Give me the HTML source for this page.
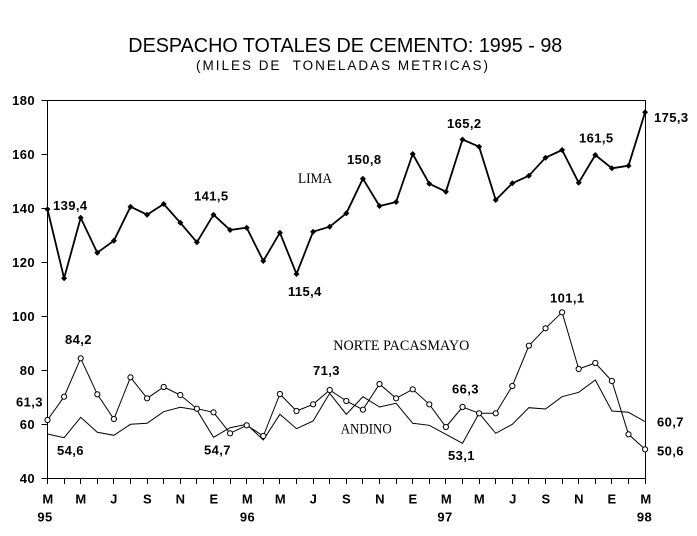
<!DOCTYPE html>
<html>
<head>
<meta charset="utf-8">
<style>
html,body{margin:0;padding:0;background:#fff;}
svg{display:block;}
.ax{font-family:"Liberation Sans",Arial,sans-serif;font-weight:bold;font-size:13px;letter-spacing:0.4px;fill:#000;}
.sr{font-family:"Liberation Serif","Times New Roman",serif;font-size:15px;fill:#000;}
</style>
</head>
<body>
<svg width="697" height="536" viewBox="0 0 697 536" xmlns="http://www.w3.org/2000/svg">
<rect width="697" height="536" fill="#fff"/>
<text x="128.3" y="52" font-family="Liberation Sans, Arial, sans-serif" font-size="20" textLength="434" lengthAdjust="spacingAndGlyphs">DESPACHO TOTALES DE CEMENTO: 1995 - 98</text>
<text x="196" y="70" font-family="Liberation Sans, Arial, sans-serif" font-size="13.5" textLength="292" xml:space="preserve">(MILES DE  TONELADAS METRICAS)</text>

<g stroke="#000" stroke-width="1" fill="none" shape-rendering="crispEdges">
<path d="M47.5 100.5 H645.5 V478.5 H47.5 Z"/>
<path d="M41.5 100.5H47.5M41.5 154.5H47.5M41.5 208.5H47.5M41.5 262.5H47.5M41.5 316.5H47.5M41.5 370.5H47.5M41.5 424.5H47.5M41.5 478.5H47.5"/>
</g>
<g stroke="#000" stroke-width="1" shape-rendering="crispEdges">
<line x1="47.5" y1="478.5" x2="47.5" y2="484"/><line x1="64.5" y1="478.5" x2="64.5" y2="484"/><line x1="80.5" y1="478.5" x2="80.5" y2="484"/><line x1="97.5" y1="478.5" x2="97.5" y2="484"/><line x1="113.5" y1="478.5" x2="113.5" y2="484"/><line x1="130.5" y1="478.5" x2="130.5" y2="484"/><line x1="147.5" y1="478.5" x2="147.5" y2="484"/><line x1="163.5" y1="478.5" x2="163.5" y2="484"/><line x1="180.5" y1="478.5" x2="180.5" y2="484"/><line x1="196.5" y1="478.5" x2="196.5" y2="484"/><line x1="213.5" y1="478.5" x2="213.5" y2="484"/><line x1="230.5" y1="478.5" x2="230.5" y2="484"/><line x1="246.5" y1="478.5" x2="246.5" y2="484"/><line x1="263.5" y1="478.5" x2="263.5" y2="484"/><line x1="279.5" y1="478.5" x2="279.5" y2="484"/><line x1="296.5" y1="478.5" x2="296.5" y2="484"/><line x1="313.5" y1="478.5" x2="313.5" y2="484"/><line x1="329.5" y1="478.5" x2="329.5" y2="484"/><line x1="346.5" y1="478.5" x2="346.5" y2="484"/><line x1="362.5" y1="478.5" x2="362.5" y2="484"/><line x1="379.5" y1="478.5" x2="379.5" y2="484"/><line x1="396.5" y1="478.5" x2="396.5" y2="484"/><line x1="412.5" y1="478.5" x2="412.5" y2="484"/><line x1="429.5" y1="478.5" x2="429.5" y2="484"/><line x1="445.5" y1="478.5" x2="445.5" y2="484"/><line x1="462.5" y1="478.5" x2="462.5" y2="484"/><line x1="479.5" y1="478.5" x2="479.5" y2="484"/><line x1="495.5" y1="478.5" x2="495.5" y2="484"/><line x1="512.5" y1="478.5" x2="512.5" y2="484"/><line x1="528.5" y1="478.5" x2="528.5" y2="484"/><line x1="545.5" y1="478.5" x2="545.5" y2="484"/><line x1="562.5" y1="478.5" x2="562.5" y2="484"/><line x1="578.5" y1="478.5" x2="578.5" y2="484"/><line x1="595.5" y1="478.5" x2="595.5" y2="484"/><line x1="611.5" y1="478.5" x2="611.5" y2="484"/><line x1="628.5" y1="478.5" x2="628.5" y2="484"/><line x1="645.5" y1="478.5" x2="645.5" y2="484"/>
</g>

<!-- Y labels -->
<g class="ax" text-anchor="end">
<text x="35" y="105">180</text>
<text x="35" y="159">160</text>
<text x="35" y="213">140</text>
<text x="35" y="267">120</text>
<text x="35" y="321">100</text>
<text x="35" y="375">80</text>
<text x="35" y="429">60</text>
<text x="35" y="483">40</text>
</g>

<!-- X labels -->
<g class="ax" text-anchor="middle">
<text x="48" y="503.5">M</text>
<text x="81" y="503.5">M</text>
<text x="114" y="503.5">J</text>
<text x="147.5" y="503.5">S</text>
<text x="180.5" y="503.5">N</text>
<text x="214" y="503.5">E</text>
<text x="247.5" y="503.5">M</text>
<text x="280.5" y="503.5">M</text>
<text x="313.5" y="503.5">J</text>
<text x="346.5" y="503.5">S</text>
<text x="380" y="503.5">N</text>
<text x="413" y="503.5">E</text>
<text x="446.5" y="503.5">M</text>
<text x="479.5" y="503.5">M</text>
<text x="513" y="503.5">J</text>
<text x="546" y="503.5">S</text>
<text x="579" y="503.5">N</text>
<text x="612" y="503.5">E</text>
<text x="646" y="503.5">M</text>
<text x="45" y="521.5">95</text>
<text x="247.5" y="521.5">96</text>
<text x="445" y="521.5">97</text>
<text x="644.5" y="521.5">98</text>
</g>

<!-- ANDINO -->
<polyline fill="none" stroke="#000" stroke-width="1" points="47.5,434 64.1,437.7 80.7,417.3 97.3,432.3 113.9,435.3 130.5,424.3 147.1,423.3 163.7,411.7 180.3,407.3 196.9,410 213.5,437.3 230.1,427.7 246.7,424.3 263.3,440 279.9,414.3 296.5,428.7 313.1,421 329.7,393.3 346.3,414.3 362.9,396.7 379.5,407 396.1,403.3 412.7,423.3 429.3,425.3 445.9,434.3 462.5,443.3 479.1,413.3 495.7,433.3 512.3,424.3 528.9,407.7 545.5,409 562.1,396.7 578.7,392.3 595.3,380 611.9,411 628.5,412.3 645.1,421.7"/>

<!-- NORTE PACASMAYO -->
<polyline fill="none" stroke="#000" stroke-width="1" points="47.5,420 64.1,396.7 80.7,358.3 97.3,394.3 113.9,419 130.5,377.3 147.1,398.3 163.7,387 180.3,395 196.9,408.7 213.5,412.3 230.1,433.3 246.7,425.3 263.3,436 279.9,394 296.5,411 313.1,404.3 329.7,390 346.3,401 362.9,409.7 379.5,384 396.1,398.3 412.7,389.3 429.3,404.3 445.9,427 462.5,407 479.1,413.3 495.7,413.3 512.3,386 528.9,345.7 545.5,328.3 562.1,312.3 578.7,369 595.3,363 611.9,381 628.5,434.3 645.1,449.3"/>
<g fill="#fff" stroke="#000" stroke-width="1">
<circle cx="47.5" cy="420" r="2.6"/><circle cx="64.1" cy="396.7" r="2.6"/><circle cx="80.7" cy="358.3" r="2.6"/><circle cx="97.3" cy="394.3" r="2.6"/><circle cx="113.9" cy="419" r="2.6"/><circle cx="130.5" cy="377.3" r="2.6"/><circle cx="147.1" cy="398.3" r="2.6"/><circle cx="163.7" cy="387" r="2.6"/><circle cx="180.3" cy="395" r="2.6"/><circle cx="196.9" cy="408.7" r="2.6"/><circle cx="213.5" cy="412.3" r="2.6"/><circle cx="230.1" cy="433.3" r="2.6"/><circle cx="246.7" cy="425.3" r="2.6"/><circle cx="263.3" cy="436" r="2.6"/><circle cx="279.9" cy="394" r="2.6"/><circle cx="296.5" cy="411" r="2.6"/><circle cx="313.1" cy="404.3" r="2.6"/><circle cx="329.7" cy="390" r="2.6"/><circle cx="346.3" cy="401" r="2.6"/><circle cx="362.9" cy="409.7" r="2.6"/><circle cx="379.5" cy="384" r="2.6"/><circle cx="396.1" cy="398.3" r="2.6"/><circle cx="412.7" cy="389.3" r="2.6"/><circle cx="429.3" cy="404.3" r="2.6"/><circle cx="445.9" cy="427" r="2.6"/><circle cx="462.5" cy="407" r="2.6"/><circle cx="479.1" cy="413.3" r="2.6"/><circle cx="495.7" cy="413.3" r="2.6"/><circle cx="512.3" cy="386" r="2.6"/><circle cx="528.9" cy="345.7" r="2.6"/><circle cx="545.5" cy="328.3" r="2.6"/><circle cx="562.1" cy="312.3" r="2.6"/><circle cx="578.7" cy="369" r="2.6"/><circle cx="595.3" cy="363" r="2.6"/><circle cx="611.9" cy="381" r="2.6"/><circle cx="628.5" cy="434.3" r="2.6"/><circle cx="645.1" cy="449.3" r="2.6"/>
</g>

<!-- LIMA -->
<polyline fill="none" stroke="#000" stroke-width="1.8" stroke-linejoin="round" points="47.5,209.3 64.1,278.3 80.7,217.7 97.3,252.7 113.9,240.7 130.5,206.7 147.1,214.7 163.7,204 180.3,222.7 196.9,242.3 213.5,214.7 230.1,230 246.7,227.7 263.3,261 279.9,232.7 296.5,274 313.1,231.7 329.7,226.7 346.3,213.3 362.9,178.7 379.5,206 396.1,202 412.7,154 429.3,183.7 445.9,191.7 462.5,139.5 479.1,146.7 495.7,200 512.3,183.3 528.9,175.7 545.5,157.7 562.1,150 578.7,182.7 595.3,155 611.9,168.3 628.5,165.7 645.1,112.3"/>
<g fill="#000">
<path d="M47.5 206.3l3 3-3 3-3-3z M64.1 275.3l3 3-3 3-3-3z M80.7 214.7l3 3-3 3-3-3z M97.3 249.7l3 3-3 3-3-3z M113.9 237.7l3 3-3 3-3-3z M130.5 203.7l3 3-3 3-3-3z M147.1 211.7l3 3-3 3-3-3z M163.7 201l3 3-3 3-3-3z M180.3 219.7l3 3-3 3-3-3z M196.9 239.3l3 3-3 3-3-3z M213.5 211.7l3 3-3 3-3-3z M230.1 227l3 3-3 3-3-3z M246.7 224.7l3 3-3 3-3-3z M263.3 258l3 3-3 3-3-3z M279.9 229.7l3 3-3 3-3-3z M296.5 271l3 3-3 3-3-3z M313.1 228.7l3 3-3 3-3-3z M329.7 223.7l3 3-3 3-3-3z M346.3 210.3l3 3-3 3-3-3z M362.9 175.7l3 3-3 3-3-3z M379.5 203l3 3-3 3-3-3z M396.1 199l3 3-3 3-3-3z M412.7 151l3 3-3 3-3-3z M429.3 180.7l3 3-3 3-3-3z M445.9 188.7l3 3-3 3-3-3z M462.5 136.5l3 3-3 3-3-3z M479.1 143.7l3 3-3 3-3-3z M495.7 197l3 3-3 3-3-3z M512.3 180.3l3 3-3 3-3-3z M528.9 172.7l3 3-3 3-3-3z M545.5 154.7l3 3-3 3-3-3z M562.1 147l3 3-3 3-3-3z M578.7 179.7l3 3-3 3-3-3z M595.3 152l3 3-3 3-3-3z M611.9 165.3l3 3-3 3-3-3z M628.5 162.7l3 3-3 3-3-3z M645.1 109.3l3 3-3 3-3-3z"/>
</g>

<!-- Series names -->
<text class="sr" x="298" y="183" textLength="34" lengthAdjust="spacingAndGlyphs">LIMA</text>
<text class="sr" x="333.3" y="350" textLength="136" lengthAdjust="spacingAndGlyphs">NORTE PACASMAYO</text>
<text class="sr" x="340.7" y="433.3" textLength="51" lengthAdjust="spacingAndGlyphs">ANDINO</text>

<!-- Data labels -->
<g class="ax">
<text x="53" y="210">139,4</text>
<text x="194" y="200.5">141,5</text>
<text x="288" y="296">115,4</text>
<text x="347" y="164">150,8</text>
<text x="447" y="128">165,2</text>
<text x="579" y="142.5">161,5</text>
<text x="654" y="122">175,3</text>
<text x="65" y="344">84,2</text>
<text x="16" y="406.5">61,3</text>
<text x="57" y="455">54,6</text>
<text x="204" y="454.5">54,7</text>
<text x="313" y="375">71,3</text>
<text x="452" y="393.5">66,3</text>
<text x="448" y="460">53,1</text>
<text x="550" y="302.5">101,1</text>
<text x="657" y="426.5">60,7</text>
<text x="657" y="455.5">50,6</text>
</g>
</svg>
</body>
</html>
